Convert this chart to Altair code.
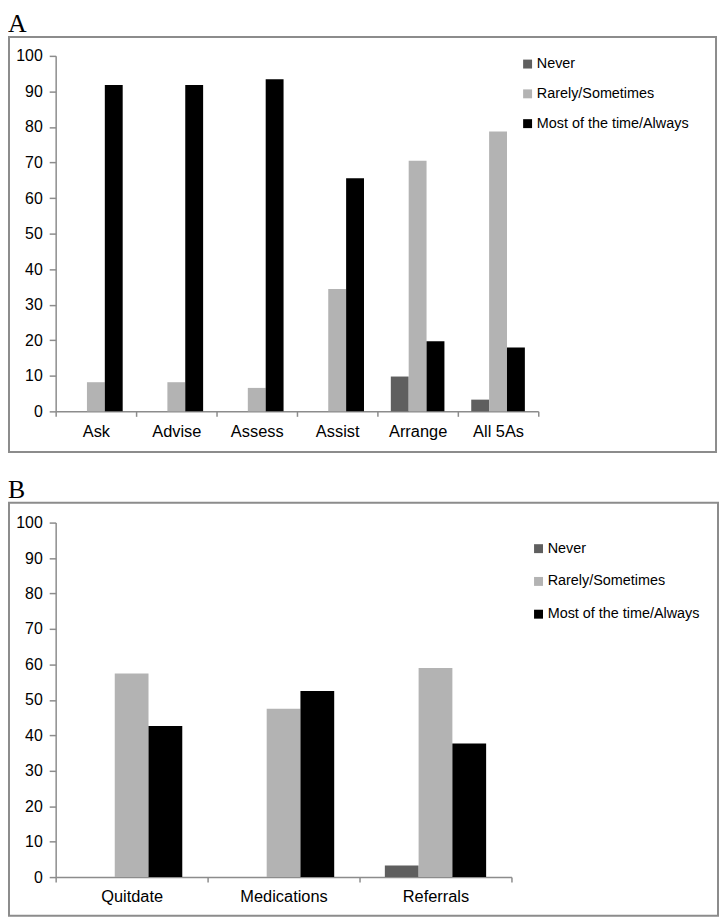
import altair as alt
import pandas as pd

# ---- data ----
series = ["Never", "Rarely/Sometimes", "Most of the time/Always"]
series_colors = ["#5f5f5f", "#b3b3b3", "#000000"]

cats_a = ["Ask", "Advise", "Assess", "Assist", "Arrange", "All 5As"]
never_a = [0, 0, 0, 0, 9.8, 3.3]
rarely_a = [8.2, 8.2, 6.6, 34.4, 70.5, 78.7]
most_a = [91.8, 91.8, 93.4, 65.6, 19.7, 18.0]

cats_b = ["Quitdate", "Medications", "Referrals"]
never_b = [0, 0, 3.3]
rarely_b = [57.4, 47.5, 59.0]
most_b = [42.6, 52.5, 37.7]

y_ticks = list(range(0, 101, 10))


def long_df(cats, never, rarely, most):
    rows = []
    for i, c in enumerate(cats):
        for s, vals in zip(series, [never, rarely, most]):
            rows.append({"cat": c, "series": s, "value": vals[i]})
    return pd.DataFrame(rows)


FONT = "Liberation Sans"
AXIS_GRAY = "#8c8c8c"
FRAME_GRAY = "#8c8c8c"


def panel(df, cats, W, H, frame, letter, letter_y, leg_x, leg_y, row_pad):
    fx, fx2, fy, fy2 = frame
    one = pd.DataFrame({"k": [0]})
    box = alt.Chart(one).mark_rect(
        fillOpacity=0, stroke=FRAME_GRAY, strokeWidth=2
    ).encode(
        x=alt.value(fx), x2=alt.value(fx2), y=alt.value(fy), y2=alt.value(fy2)
    )
    label = alt.Chart(one).mark_text(
        text=letter, font="Liberation Serif", fontSize=26, align="left",
        baseline="alphabetic", color="black"
    ).encode(x=alt.value(fx - 1), y=alt.value(letter_y))

    bars = alt.Chart(df).mark_bar().encode(
        x=alt.X(
            "cat:N", sort=cats, title=None,
            scale=alt.Scale(paddingInner=0, paddingOuter=0),
            axis=alt.Axis(
                labelAngle=0, tickBand="extent", tickSize=5, labelPadding=7,
                labelFontSize=16.5, labelFont=FONT, labelColor="black",
                domainColor=AXIS_GRAY, tickColor=AXIS_GRAY, domainWidth=1.5,
                tickWidth=1.5,
            ),
        ),
        xOffset=alt.XOffset(
            "series:N", sort=series,
            scale=alt.Scale(paddingInner=0, paddingOuter=0.75),
        ),
        y=alt.Y(
            "value:Q", title=None,
            scale=alt.Scale(domain=[0, 100], nice=False),
            axis=alt.Axis(
                values=y_ticks, grid=False, tickSize=6.5, labelPadding=7,
                labelFontSize=16, labelFont=FONT, labelColor="black",
                domainColor=AXIS_GRAY, tickColor=AXIS_GRAY, domainWidth=1.5,
                tickWidth=1.5,
            ),
        ),
        color=alt.Color(
            "series:N", sort=series,
            scale=alt.Scale(domain=series, range=series_colors),
            legend=alt.Legend(
                title=None, orient="none", legendX=leg_x, legendY=leg_y,
                symbolType="square", symbolSize=81, symbolStrokeWidth=0,
                labelFont=FONT, labelFontSize=14.5, labelColor="black",
                labelOffset=2, rowPadding=row_pad, padding=0,
            ),
        ),
    )
    return alt.layer(box, label, bars).properties(width=W, height=H)


df_a = long_df(cats_a, never_a, rarely_a, most_a)
df_b = long_df(cats_b, never_b, rarely_b, most_b)

pa = panel(df_a, cats_a, 486, 358, (-47, 665, -19, 399), "A", -24, 468, 1, 15)
pb = panel(df_b, cats_b, 459, 357, (-47, 667, -20, 396), "B", -25, 479, 19, 18)

chart = alt.vconcat(pa, pb, spacing=24).resolve_scale(
    x="independent", xOffset="independent", color="independent"
).resolve_legend(color="independent").properties(padding=0).configure_view(
    stroke=None
).configure_concat(spacing=24)

chart.save("out.html", embed_options={"renderer": "svg", "actions": False})
